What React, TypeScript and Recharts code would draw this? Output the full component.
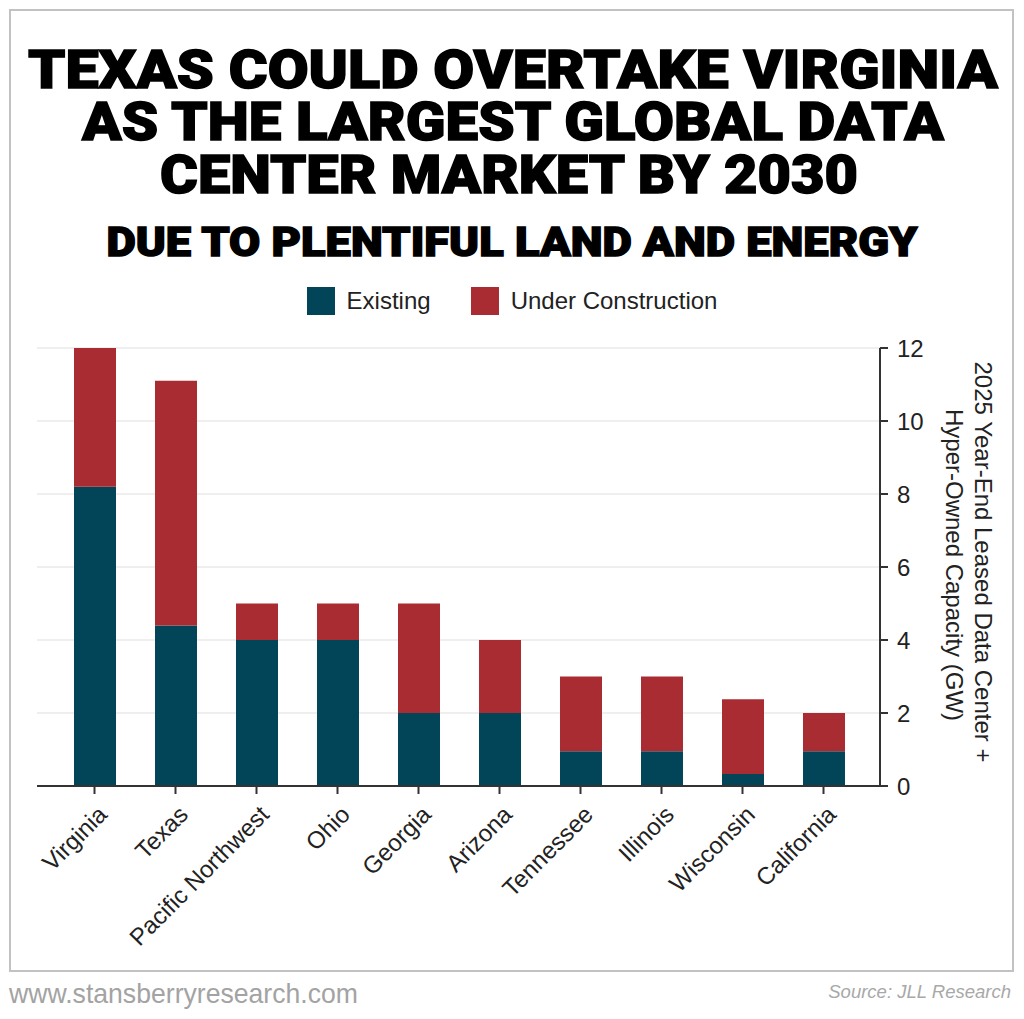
import React from 'react';
import { BarChart, Bar, XAxis, YAxis, CartesianGrid, Legend } from 'recharts';

// Markets, ordered by total capacity
const categories = [
  'Virginia',
  'Texas',
  'Pacific Northwest',
  'Ohio',
  'Georgia',
  'Arizona',
  'Tennessee',
  'Illinois',
  'Wisconsin',
  'California',
];

// Capacity in GW
const existing = [8.2, 4.4, 4, 4, 2, 2, 0.95, 0.95, 0.33, 0.95];
const underConstruction = [3.8, 6.7, 1, 1, 3, 2, 2.05, 2.05, 2.05, 1.05];

const yTicks = [0, 2, 4, 6, 8, 10, 12];

const seriesNames = ['Existing', 'Under Construction'];
const seriesColors = ['#034558', '#a92c32'];

const titleLines = [
  'TEXAS COULD OVERTAKE VIRGINIA',
  'AS THE LARGEST GLOBAL DATA',
  'CENTER MARKET BY 2030',
];
const subtitle = 'DUE TO PLENTIFUL LAND AND ENERGY';
const axisTitleLines = ['2025 Year-End Leased Data Center +', 'Hyper-Owned Capacity (GW)'];
const siteText = 'www.stansberryresearch.com';
const sourceText = 'Source: JLL Research';

const data = categories.map((name, i) => ({
  name,
  existing: existing[i],
  underConstruction: underConstruction[i],
}));

const FONT = '"Liberation Sans", Arial, sans-serif';
const TEXT_COLOR = '#222';

const XTick = (props: any) => {
  const { x, y, payload } = props;
  return (
    <g transform={`translate(${x},${y})`}>
      <text
        transform="translate(2,8) rotate(-45)"
        textAnchor="end"
        dy="0.71em"
        fontFamily={FONT}
        fontSize={24}
        fill={TEXT_COLOR}
      >
        {payload.value}
      </text>
    </g>
  );
};

const AxisTitle = (props: any) => {
  const vb = props.viewBox || {};
  const cy = (vb.y ?? 348) + (vb.height ?? 438) / 2;
  return (
    <g>
      <text
        transform={`translate(975,${cy - 5}) rotate(90)`}
        textAnchor="middle"
        fontFamily={FONT}
        fontSize={24}
        fill={TEXT_COLOR}
      >
        {axisTitleLines[0]}
      </text>
      <text
        transform={`translate(946,${cy - 2}) rotate(90)`}
        textAnchor="middle"
        fontFamily={FONT}
        fontSize={24}
        fill={TEXT_COLOR}
      >
        {axisTitleLines[1]}
      </text>
    </g>
  );
};

const LegendContent = () => (
  <div
    style={{
      display: 'flex',
      justifyContent: 'center',
      alignItems: 'center',
      gap: 40,
      fontFamily: FONT,
      fontSize: 24,
      color: TEXT_COLOR,
    }}
  >
    {seriesNames.map((n, i) => (
      <div key={n} style={{ display: 'flex', alignItems: 'center', gap: 12 }}>
        <div style={{ width: 28, height: 28, background: seriesColors[i] }} />
        <span>{n}</span>
      </div>
    ))}
  </div>
);

export default function App() {
  return (
    <div
      style={{
        position: 'absolute',
        left: 0,
        top: 0,
        width: 1024,
        height: 1019,
        background: '#fff',
        overflow: 'hidden',
      }}
    >
      <div
        style={{
          position: 'absolute',
          left: 9,
          top: 9,
          width: 1005,
          height: 963,
          border: '2px solid #c2c2c2',
          boxSizing: 'border-box',
        }}
      />
      <div style={{ position: 'absolute', left: 0, top: 0 }}>
        <BarChart
          width={1024}
          height={1019}
          data={data}
          margin={{ top: 348, right: 84, bottom: 133, left: 37 }}
        >
          <CartesianGrid vertical={false} stroke="#efefef" strokeWidth={2} />
          <XAxis
            dataKey="name"
            interval={0}
            height={100}
            padding={{ left: 17, right: 16 }}
            axisLine={{ stroke: '#333', strokeWidth: 2 }}
            tickLine={{ stroke: '#333', strokeWidth: 2 }}
            tickSize={8}
            tick={<XTick />}
          />
          <YAxis
            orientation="right"
            width={60}
            domain={[0, 12]}
            ticks={yTicks}
            interval={0}
            axisLine={{ stroke: '#333', strokeWidth: 2 }}
            tickLine={{ stroke: '#333', strokeWidth: 2 }}
            tickSize={8}
            tickMargin={9}
            tick={{ fontFamily: FONT, fontSize: 24, fill: TEXT_COLOR }}
            label={<AxisTitle />}
          />
          <Legend
            layout="horizontal"
            verticalAlign="middle"
            align="center"
            wrapperStyle={{ top: 287, left: 0, width: 1024 }}
            content={<LegendContent />}
          />
          <Bar
            dataKey="existing"
            name={seriesNames[0]}
            stackId="a"
            fill={seriesColors[0]}
            barSize={42}
            isAnimationActive={false}
          />
          <Bar
            dataKey="underConstruction"
            name={seriesNames[1]}
            stackId="a"
            fill={seriesColors[1]}
            barSize={42}
            isAnimationActive={false}
          />
        </BarChart>
      </div>
      <svg
        width={1024}
        height={1019}
        style={{ position: 'absolute', left: 0, top: 0, pointerEvents: 'none' }}
      >
        <g
          fontFamily='Roboto, "Liberation Sans", sans-serif'
          fontWeight={900}
          fill="#000"
          stroke="#000"
          strokeWidth={1.4}
          textAnchor="middle"
        >
          <text x={513} y={88} fontSize={53} textLength={970} lengthAdjust="spacingAndGlyphs">
            {titleLines[0]}
          </text>
          <text x={513} y={140} fontSize={53} textLength={862} lengthAdjust="spacingAndGlyphs">
            {titleLines[1]}
          </text>
          <text x={509} y={193} fontSize={53} textLength={698} lengthAdjust="spacingAndGlyphs">
            {titleLines[2]}
          </text>
          <text x={512} y={256} fontSize={40} textLength={811} lengthAdjust="spacingAndGlyphs">
            {subtitle}
          </text>
        </g>
        <text
          x={9}
          y={1003}
          fontFamily='"Liberation Sans Narrow", "Liberation Sans", sans-serif'
          fontSize={28}
          fill="#a3a3a3"
          textLength={349}
          lengthAdjust="spacingAndGlyphs"
        >
          {siteText}
        </text>
        <text
          x={1011}
          y={998}
          textAnchor="end"
          fontFamily='"Liberation Sans Narrow", "Liberation Sans", sans-serif'
          fontStyle="italic"
          fontSize={18.5}
          fill="#a8a8a8"
        >
          {sourceText}
        </text>
      </svg>
    </div>
  );
}
